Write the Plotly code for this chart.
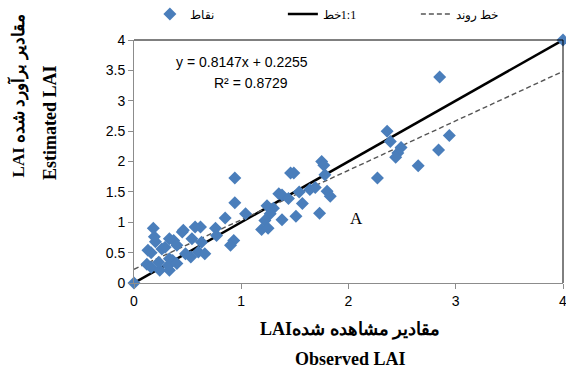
import plotly.graph_objects as go

# Observed (x) and estimated (y) LAI values
observed = [0.00, 4.00, 2.85, 2.36, 2.39, 2.49, 2.46, 2.44, 2.94, 2.84, 2.65, 2.27,
            1.75, 1.77, 1.78, 1.64, 1.69, 1.80, 1.83, 1.73, 1.57, 1.54, 1.51, 1.46,
            1.49, 1.35, 1.38, 1.44, 1.38, 1.30, 1.24, 1.27, 1.22, 1.19, 1.25, 0.94,
            0.94, 1.04, 0.85, 0.93, 0.90, 0.76, 0.77, 0.62, 0.57, 0.46, 0.45, 0.18,
            0.19, 0.20, 0.13, 0.16, 0.12, 0.16, 0.24, 0.33, 0.33, 0.36, 0.26, 0.29,
            0.33, 0.37, 0.53, 0.60, 0.54, 0.63, 0.40, 0.66, 0.32, 0.40, 0.48, 0.23]
estimated = [0.00, 4.00, 3.39, 2.50, 2.33, 2.23, 2.14, 2.07, 2.43, 2.19, 1.93, 1.73,
             2.00, 1.94, 1.78, 1.54, 1.57, 1.51, 1.43, 1.15, 1.31, 1.50, 1.10, 1.81,
             1.81, 1.47, 1.45, 1.39, 1.04, 1.23, 1.27, 1.14, 1.03, 0.88, 0.90, 1.73,
             1.32, 1.14, 1.07, 0.70, 0.62, 0.90, 0.78, 0.92, 0.92, 0.87, 0.84, 0.90,
             0.76, 0.68, 0.54, 0.50, 0.31, 0.26, 0.21, 0.21, 0.40, 0.37, 0.56, 0.59,
             0.73, 0.70, 0.43, 0.51, 0.73, 0.67, 0.62, 0.48, 0.29, 0.32, 0.48, 0.34]

line_x = [0, 4]
one_to_one_y = [0, 4]
slope = 0.8147
intercept = 0.2255
trend_y = [slope * v + intercept for v in line_x]

x_ticks = [0, 1, 2, 3, 4]
y_ticks = [0, 0.5, 1, 1.5, 2, 2.5, 3, 3.5, 4]

label_points = "نقاط"
label_one = "خط\u200e1:1"
label_trend = "خط روند"

serif = "Liberation Serif, Times New Roman, serif"
narrow = "Liberation Sans Narrow, Arial Narrow, Liberation Sans, sans-serif"

fig = go.Figure()
fig.add_trace(go.Scatter(
    x=line_x, y=one_to_one_y, mode="lines", name=label_one,
    line=dict(color="black", width=2.5), cliponaxis=False,
))
fig.add_trace(go.Scatter(
    x=line_x, y=trend_y, mode="lines", name=label_trend,
    line=dict(color="#555555", width=1.4, dash="5px,3px"),
))
fig.add_trace(go.Scatter(
    x=observed, y=estimated, mode="markers", name=label_points,
    marker=dict(symbol="diamond", size=10, color="#4A7EBB"),
    cliponaxis=False, legendrank=1,
))

axis_common = dict(
    showgrid=False, zeroline=False, showline=True, linecolor="#8c8c8c", linewidth=1,
    ticks="outside", ticklen=5, tickcolor="#8c8c8c", ticklabeloverflow="allow",
    tickfont=dict(family=narrow, size=14, color="black"),
)
fig.update_xaxes(range=[0, 4], tickvals=x_ticks, **axis_common)
fig.update_yaxes(range=[0, 4], tickvals=y_ticks, **axis_common)

fig.add_shape(type="line", xref="paper", yref="paper", x0=0, x1=1, y0=1, y1=1,
              line=dict(color="black", width=1))
fig.add_shape(type="line", xref="paper", yref="paper", x0=1, x1=1, y0=0, y1=1,
              line=dict(color="black", width=1))

title_font = dict(family=serif, size=18, color="black")
annotations = [
    dict(text="y = 0.8147x + 0.2255", x=1.01, y=3.64, xref="x", yref="y",
         showarrow=False, font=dict(family=narrow, size=14, color="black")),
    dict(text="R² = 0.8729", x=1.09, y=3.30, xref="x", yref="y",
         showarrow=False, font=dict(family=narrow, size=14, color="black")),
    dict(text="A", x=2.07, y=1.07, xref="x", yref="y",
         showarrow=False, font=dict(family=serif, size=17, color="black")),
    dict(text="<b>LAI مقادیر برآورد شده</b>", x=-0.2704, y=0.772, xref="paper", yref="paper",
         xanchor="center", yanchor="middle",
         textangle=-90, showarrow=False, font=dict(family=serif, size=17, color="black")),
    dict(text="<b>Estimated LAI</b>", x=-0.1958, y=0.658, xref="paper", yref="paper",
         xanchor="center", yanchor="middle",
         textangle=-90, showarrow=False, font=title_font),
    dict(text="<b>LAIمقادیر مشاهده شده</b>", x=0.5035, y=-0.193, xref="paper", yref="paper",
         xanchor="center", yanchor="middle", showarrow=False, font=title_font),
    dict(text="<b>Observed LAI</b>", x=0.5035, y=-0.313, xref="paper", yref="paper",
         xanchor="center", yanchor="middle", showarrow=False, font=title_font),
]

fig.update_layout(
    width=566, height=371,
    margin=dict(l=134, r=3, t=40, b=88, pad=0, autoexpand=False),
    paper_bgcolor="white", plot_bgcolor="white",
    showlegend=True,
    legend=dict(orientation="h", x=0.037, y=1.107, xanchor="left", yanchor="middle",
                font=dict(family=serif, size=12, color="black"),
                itemwidth=30, entrywidth=88, entrywidthmode="pixels",
                bgcolor="rgba(0,0,0,0)"),
    annotations=annotations,
)

fig.write_html(
    "out.html",
    config={"displayModeBar": False},
    post_script="document.body.style.margin='0';document.body.style.overflow='hidden';",
)
